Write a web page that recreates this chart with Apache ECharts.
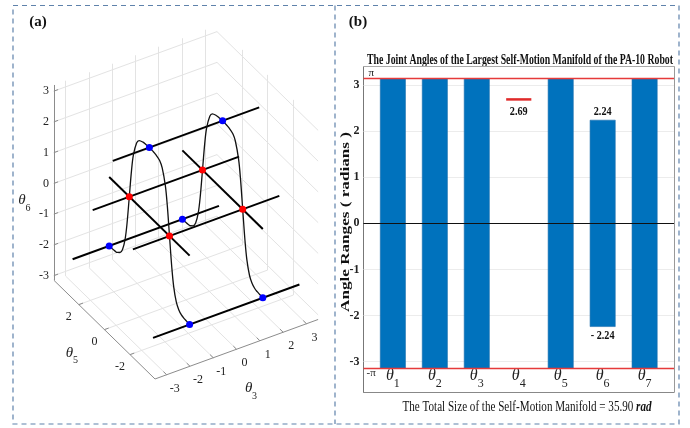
<!DOCTYPE html>
<html><head><meta charset="utf-8">
<script src="https://cdn.jsdelivr.net/npm/echarts@6/dist/echarts.min.js"></script>
<style>html,body{margin:0;padding:0;background:#fff}#c{width:690px;height:428px}</style>
</head><body><div id="c"></div>
<script>
const PI = Math.PI;
const SERIF = '"Liberation Serif", "Times New Roman", serif';

// ================= Panel (a) data (3-D self-motion manifold) =================
const theta3Ticks = [-3, -2, -1, 0, 1, 2, 3];
const theta5Ticks = [-2, 0, 2];
const theta6Ticks = [-3, -2, -1, 0, 1, 2, 3];
const theta3Range = [-3.5, 3.5];
const theta5Range = [-3.95, 3.95];
const theta6Range = [-3.15, 3.2];

// straight branches parallel to theta3 (theta3 from -pi to pi)
const along3Span = [-PI, PI];
const along3Theta5 = [0, PI / 2, PI, -PI / 2, -PI];
const along3Theta6 = [2.24, 0, -2.24, 0, -2.24];
// straight branches parallel to theta5
const along5Span = [-PI, PI];
const along5Theta3 = [-PI / 2, PI / 2];
const along5Theta6 = [0, 0];
// curved branches in the planes theta3 = const (theta6 read against theta5)
const curveTheta3 = [-PI / 2, PI / 2];
const curveTheta5 = [3.14, 2.9, 2.7, 2.5, 2.3, 2.1, 1.9, 1.75, 1.57, 1.4, 1.25, 1.0, 0.8, 0.5, 0.25, 0,
  -0.25, -0.5, -0.8, -1.0, -1.25, -1.4, -1.57, -1.75, -1.9, -2.1, -2.3, -2.5, -2.7, -2.9, -3.14];
const curveTheta6 = [-2.24, -2.23, -2.22, -2.19, -2.11, -1.93, -1.52, -0.95, 0, 0.91, 1.49, 1.98, 2.14, 2.21, 2.23, 2.24,
  2.23, 2.21, 2.14, 1.98, 1.49, 0.91, 0, -0.95, -1.52, -1.93, -2.11, -2.19, -2.22, -2.23, -2.24];
// marked points
const redTheta3 = [-PI / 2, PI / 2, -PI / 2, PI / 2];
const redTheta5 = [PI / 2, PI / 2, -PI / 2, -PI / 2];
const redTheta6 = [0, 0, 0, 0];
const blueTheta3 = [-PI / 2, PI / 2, -PI / 2, PI / 2, -PI / 2, PI / 2];
const blueTheta5 = [0, 0, PI, PI, -PI, -PI];
const blueTheta6 = [2.24, 2.24, -2.24, -2.24, -2.24, -2.24];

// ================= Panel (b) data (joint angle ranges) =================
const categories = ['θ1', 'θ2', 'θ3', 'θ4', 'θ5', 'θ6', 'θ7'];
const rangeLow = [-PI, -PI, -PI, 2.69, -PI, -2.24, -PI];
const rangeHigh = [PI, PI, PI, 2.69, PI, 2.24, PI];
const yTicks = [-3, -2, -1, 0, 1, 2, 3];
const yLimits = [-3.66, 3.4];
const xLimits = [0.3, 7.7];
const annotJoint = [4, 6, 6];
const annotValue = [2.69, 2.24, -2.24];
const annotText = ['2.69', '2.24', '- 2.24'];
const refValues = [PI, -PI];
const totalSize = '35.90';

// ================= 3-D view projection (oblique view as in the figure) =================
const VIEW = { ox: 186, oy: 203, e3: [23.3, -8.5], e5: [-12.8, -12.5], e6: [0, -30.75] };
function proj(a, b, c) {
  return [VIEW.ox + a * VIEW.e3[0] + b * VIEW.e5[0] + c * VIEW.e6[0],
          VIEW.oy + a * VIEW.e3[1] + b * VIEW.e5[1] + c * VIEW.e6[1]];
}
const [a0, a1] = theta3Range, [b0, b1] = theta5Range, [c0, c1] = theta6Range;

const gridSegs = [];
theta3Ticks.forEach(t => { gridSegs.push([proj(t, b0, c0), proj(t, b1, c0)]); gridSegs.push([proj(t, b1, c0), proj(t, b1, c1)]); });
theta5Ticks.forEach(t => { gridSegs.push([proj(a0, t, c0), proj(a1, t, c0)]); gridSegs.push([proj(a1, t, c0), proj(a1, t, c1)]); });
theta6Ticks.forEach(t => { gridSegs.push([proj(a0, b1, t), proj(a1, b1, t)]); gridSegs.push([proj(a1, b1, t), proj(a1, b0, t)]); });

const axisSegs = [
  [proj(a0, b1, c0), proj(a0, b1, c1)],
  [proj(a0, b0, c0), proj(a0, b1, c0)],
  [proj(a0, b0, c0), proj(a1, b0, c0)]
];
theta6Ticks.forEach(t => axisSegs.push([proj(a0, b1, t), proj(a0 + 0.18, b1, t)]));
theta5Ticks.forEach(t => axisSegs.push([proj(a0, t, c0), proj(a0 + 0.18, t, c0)]));
theta3Ticks.forEach(t => axisSegs.push([proj(t, b0, c0), proj(t, b0 + 0.25, c0)]));

const manifoldSegs = [];
along3Theta5.forEach((b, i) => manifoldSegs.push([proj(along3Span[0], b, along3Theta6[i]), proj(along3Span[1], b, along3Theta6[i])]));
along5Theta3.forEach((a, i) => manifoldSegs.push([proj(a, along5Span[0], along5Theta6[i]), proj(a, along5Span[1], along5Theta6[i])]));

const curveSeries = curveTheta3.map(a => ({
  type: 'line', xAxisIndex: 0, yAxisIndex: 0, smooth: 0.35, showSymbol: false, silent: true, z: 4,
  lineStyle: { color: '#111', width: 1.3 },
  data: curveTheta5.map((b, k) => proj(a, b, curveTheta6[k]))
}));

function textSeries(points, texts, opt) {
  return {
    type: 'custom', xAxisIndex: opt.xi || 0, yAxisIndex: opt.yi || 0, silent: true, z: 8,
    data: points,
    renderItem: (params, api) => {
      const p = api.coord([api.value(0), api.value(1)]);
      return {
        type: 'text', x: p[0] + opt.dx, y: p[1] + opt.dy, scaleX: opt.sx || 1,
        style: { text: texts[params.dataIndex], fontSize: opt.size, fontFamily: SERIF,
          fontWeight: opt.weight || 'normal', fontStyle: opt.italic ? 'italic' : 'normal',
          fill: opt.color || '#222', align: opt.align || 'center', verticalAlign: 'middle' }
      };
    }
  };
}
function axisTitleSeries(point, sub, dx, dy) {
  return {
    type: 'custom', xAxisIndex: 0, yAxisIndex: 0, silent: true, z: 8, data: [point],
    renderItem: (params, api) => {
      const p = api.coord([api.value(0), api.value(1)]);
      return { type: 'group', children: [
        { type: 'text', x: p[0] + dx, y: p[1] + dy, style: { text: 'θ', fontSize: 15, fontFamily: SERIF, fontStyle: 'italic', fill: '#222', align: 'center', verticalAlign: 'middle' } },
        { type: 'text', x: p[0] + dx + 6, y: p[1] + dy + 8, style: { text: sub, fontSize: 10, fontFamily: SERIF, fill: '#222', align: 'center', verticalAlign: 'middle' } }
      ] };
    }
  };
}

// ================= text fitting helper =================
const ctx = document.createElement('canvas').getContext('2d');
function textW(font, s) { ctx.font = font; return ctx.measureText(s).width; }
const titleText = 'The Joint Angles of the Largest Self-Motion Manifold of the PA-10 Robot';
const titleScale = 306 / textW('bold 15px "Liberation Serif"', titleText);
const yNameText = 'Angle Ranges ( radians )';
const yNameScale = 180 / textW('bold 13px "Liberation Serif"', yNameText);
const bottomMain = 'The Total Size of the Self-Motion Manifold = ' + totalSize + ' ';
const bottomScale = 249 / (textW('15px "Liberation Serif"', bottomMain) + textW('italic bold 15px "Liberation Serif"', 'rad'));

// ================= chart =================
const chart = echarts.init(document.getElementById('c'), null, { renderer: 'canvas' });
const barW = 0.6;
const option = {
  animation: false,
  backgroundColor: '#fff',
  grid: [
    { left: 0, top: 0, width: 690, height: 428 },
    { left: 363.5, top: 66.7, width: 310.5, height: 325.3 }
  ],
  xAxis: [
    { gridIndex: 0, type: 'value', min: 0, max: 690, show: false },
    { gridIndex: 1, type: 'value', min: xLimits[0], max: xLimits[1], position: 'bottom',
      axisLine: { show: true, onZero: false, lineStyle: { color: '#888' } },
      axisTick: { show: false }, splitLine: { show: false },
      axisLabel: { inside: true, margin: 2, customValues: categories.map((c, i) => i + 1),
        formatter: v => '{t|' + categories[v - 1].charAt(0) + '}{s|' + categories[v - 1].slice(1) + '}',
        rich: {
          t: { fontSize: 16, fontFamily: SERIF, fontStyle: 'italic', color: '#222', verticalAlign: 'top' },
          s: { fontSize: 12, fontFamily: SERIF, color: '#222', verticalAlign: 'top', padding: [10, 0, 0, 0] }
        } } },
    { gridIndex: 1, type: 'value', min: xLimits[0], max: xLimits[1], position: 'top',
      axisLine: { show: true, onZero: false, lineStyle: { color: '#aaa' } },
      axisTick: { show: false }, axisLabel: { show: false }, splitLine: { show: false } }
  ],
  yAxis: [
    { gridIndex: 0, type: 'value', min: 0, max: 428, inverse: true, show: false },
    { gridIndex: 1, type: 'value', min: yLimits[0], max: yLimits[1], position: 'left',
      axisLine: { show: true, onZero: false, lineStyle: { color: '#777' } },
      axisTick: { show: true, inside: true, length: 4, customValues: yTicks, lineStyle: { color: '#555' } },
      axisLabel: { customValues: yTicks, margin: 4, fontSize: 12, fontWeight: 'bold', fontFamily: SERIF, color: '#222' },
      splitLine: { show: false } },
    { gridIndex: 1, type: 'value', min: yLimits[0], max: yLimits[1], position: 'right',
      axisLine: { show: true, onZero: false, lineStyle: { color: '#999' } },
      axisTick: { show: true, inside: true, length: 4, customValues: yTicks, lineStyle: { color: '#666' } },
      axisLabel: { show: false }, splitLine: { show: false } }
  ],
  graphic: [
    { type: 'rect', shape: { x: 13, y: 5.5, width: 666, height: 418.5 }, style: { fill: 'none', stroke: '#5f82ab', lineWidth: 1.2, lineDash: [5, 4] }, silent: true },
    { type: 'line', shape: { x1: 335, y1: 5.5, x2: 335, y2: 424 }, style: { stroke: '#5f82ab', lineWidth: 1.2, lineDash: [5, 4] }, silent: true },
    { type: 'text', x: 38, y: 22, style: { text: '(a)', fontSize: 15, fontWeight: 'bold', fontFamily: SERIF, fill: '#111', align: 'center', verticalAlign: 'middle' } },
    { type: 'text', x: 358, y: 22, style: { text: '(b)', fontSize: 15, fontWeight: 'bold', fontFamily: SERIF, fill: '#111', align: 'center', verticalAlign: 'middle' } },
    { type: 'text', x: 520, y: 60, scaleX: titleScale, style: { text: titleText, fontSize: 15, fontWeight: 'bold', fontFamily: SERIF, fill: '#111', align: 'center', verticalAlign: 'middle' } },
    { type: 'text', x: 346, y: 222, rotation: Math.PI / 2, scaleX: yNameScale, style: { text: yNameText, fontSize: 13, fontWeight: 'bold', fontFamily: SERIF, fill: '#111', align: 'center', verticalAlign: 'middle' } },
    { type: 'text', x: 527, y: 407, scaleX: bottomScale, style: { text: '{n|' + bottomMain + '}{r|rad}', align: 'center', verticalAlign: 'middle',
      rich: { n: { fontSize: 15, fontFamily: SERIF, fill: '#111' }, r: { fontSize: 15, fontFamily: SERIF, fontStyle: 'italic', fontWeight: 'bold', fill: '#111' } } } }
  ],
  series: [
    // ---- panel (a) ----
    { type: 'lines', coordinateSystem: 'cartesian2d', xAxisIndex: 0, yAxisIndex: 0, silent: true, z: 1,
      lineStyle: { color: '#e3e3e3', width: 1, opacity: 1 }, data: gridSegs.map(s => ({ coords: s })) },
    { type: 'lines', coordinateSystem: 'cartesian2d', xAxisIndex: 0, yAxisIndex: 0, silent: true, z: 2,
      lineStyle: { color: '#8c8c8c', width: 1, opacity: 1 }, data: axisSegs.map(s => ({ coords: s })) },
    { type: 'lines', coordinateSystem: 'cartesian2d', xAxisIndex: 0, yAxisIndex: 0, silent: true, z: 3,
      lineStyle: { color: '#000', width: 2, opacity: 1 }, data: manifoldSegs.map(s => ({ coords: s })) },
    ...curveSeries,
    { type: 'scatter', xAxisIndex: 0, yAxisIndex: 0, silent: true, z: 6, symbolSize: 7,
      itemStyle: { color: '#ff0000', opacity: 1 }, data: redTheta3.map((a, i) => proj(a, redTheta5[i], redTheta6[i])) },
    { type: 'scatter', xAxisIndex: 0, yAxisIndex: 0, silent: true, z: 6, symbolSize: 7,
      itemStyle: { color: '#0000ff', opacity: 1 }, data: blueTheta3.map((a, i) => proj(a, blueTheta5[i], blueTheta6[i])) },
    textSeries(theta6Ticks.map(t => proj(a0, b1, t)), theta6Ticks.map(String), { dx: -5, dy: 0, size: 12, align: 'right' }),
    textSeries(theta5Ticks.map(t => proj(a0, t, c0)), theta5Ticks.map(String), { dx: -10, dy: 12, size: 12 }),
    textSeries(theta3Ticks.map(t => proj(t, b0, c0)), theta3Ticks.map(String), { dx: 8, dy: 14, size: 12 }),
    axisTitleSeries(proj(a0, b1, 0), '6', -32, 17),
    axisTitleSeries(proj(a0, 0, c0), '5', -35, 23),
    axisTitleSeries(proj(0, b0, c0), '3', 12, 39),
    // ---- panel (b) ----
    { type: 'lines', coordinateSystem: 'cartesian2d', xAxisIndex: 1, yAxisIndex: 1, silent: true, z: 1,
      lineStyle: { color: '#ececec', width: 1, opacity: 1 },
      data: yTicks.filter(v => v !== 0).map(v => ({ coords: [[xLimits[0], v], [xLimits[1], v]] })) },
    { type: 'custom', xAxisIndex: 1, yAxisIndex: 1, silent: true, z: 3,
      encode: { x: 0, y: [1, 2] },
      data: categories.map((c, i) => [i + 1, rangeLow[i], rangeHigh[i]]),
      renderItem: (params, api) => {
        const x = api.value(0), lo = api.value(1), hi = api.value(2);
        const pt = api.coord([x, hi]), pb = api.coord([x, lo]);
        const w = api.size([barW, 0])[0];
        if (hi - lo > 1e-6) {
          return { type: 'rect', shape: { x: pt[0] - w / 2, y: pt[1], width: w, height: pb[1] - pt[1] },
            style: { fill: '#0072BD', stroke: '#1b6fae', lineWidth: 0.6 } };
        }
        return { type: 'line', shape: { x1: pt[0] - w / 2, y1: pt[1], x2: pt[0] + w / 2, y2: pt[1] },
          style: { stroke: '#e02a2a', lineWidth: 2.5 } };
      } },
    { type: 'lines', coordinateSystem: 'cartesian2d', xAxisIndex: 1, yAxisIndex: 1, silent: true, z: 4,
      lineStyle: { color: '#e53a3a', width: 1.4, opacity: 1 },
      data: refValues.map(v => ({ coords: [[xLimits[0], v], [xLimits[1], v]] })) },
    { type: 'lines', coordinateSystem: 'cartesian2d', xAxisIndex: 1, yAxisIndex: 1, silent: true, z: 4,
      lineStyle: { color: '#111', width: 1, opacity: 1 },
      data: [{ coords: [[xLimits[0], 0], [xLimits[1], 0]] }] },
    textSeries([[xLimits[0], PI]], ['π'], { xi: 1, yi: 1, dx: 5, dy: -5, size: 11, align: 'left' }),
    textSeries([[xLimits[0], -PI]], ['-π'], { xi: 1, yi: 1, dx: 3, dy: 5, size: 11, align: 'left' }),
    { type: 'custom', xAxisIndex: 1, yAxisIndex: 1, silent: true, z: 8,
      data: annotJoint.map((j, k) => [j, annotValue[k]]),
      renderItem: (params, api) => {
        const j = api.value(0), v = api.value(1);
        const p = api.coord([j, v]);
        const flat = Math.abs(rangeHigh[j - 1] - rangeLow[j - 1]) < 1e-6;
        const dy = (v < 0 || flat) ? (flat ? 12 : 9) : -8;
        return { type: 'text', x: p[0], y: p[1] + dy, scaleX: 0.85,
          style: { text: annotText[params.dataIndex], fontSize: 12, fontWeight: 'bold', fontFamily: SERIF, fill: '#111', align: 'center', verticalAlign: 'middle' } };
      } }
  ]
};
chart.setOption(option);
</script>
</body></html>
